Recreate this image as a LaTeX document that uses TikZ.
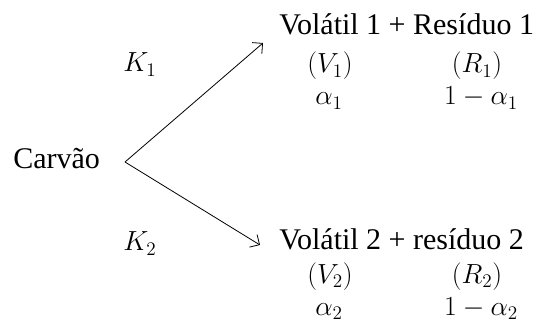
\documentclass[tikz,border=0pt]{standalone}
\usepackage{fontspec}
\setmainfont{Liberation Serif}
\usetikzlibrary{arrows.meta}
\begin{document}
\begin{tikzpicture}[x=0.75pt,y=-0.75pt,
  lbl/.style={inner sep=0pt,font=\fontsize{22.5}{26}\selectfont},
  mth/.style={inner sep=0pt,anchor=base,font=\fontsize{22}{26}\selectfont},
  conn/.style={line width=0.6pt,-{Straight Barb[length=5.5pt,width=11pt,line join=miter]}}]
\useasboundingbox (0,0) rectangle (535,331);
\node[lbl,anchor=base west] (c) at (13,169) {Carvão};
\coordinate (v) at (125,162);
\node[mth] (k1) at (140,72) {$K_1$};
\node[mth] (k2) at (140,251) {$K_2$};
\node[lbl,anchor=base west] (p1) at (279,35) {Volátil 1 + Resíduo 1};
\node[mth] (V1) at (330,73) {$(V_1)$};
\node[mth] (R1) at (477,73) {$(R_1)$};
\node[mth] (a1) at (329,105) {$\alpha_1$};
\node[mth] (b1) at (481,105) {$1-\alpha_1$};
\node[lbl,anchor=base west] (p2) at (279,250) {Volátil 2 + resíduo 2};
\node[mth] (V2) at (330,283) {$(V_2)$};
\node[mth] (R2) at (477,283) {$(R_2)$};
\node[mth] (a2) at (329,315) {$\alpha_2$};
\node[mth] (b2) at (481,315) {$1-\alpha_2$};
\coordinate (t1) at (263,43);
\coordinate (t2) at (260,245);
\draw[conn] (v) -- (t1);
\draw[conn] (v) -- (t2);
\end{tikzpicture}
\end{document}
